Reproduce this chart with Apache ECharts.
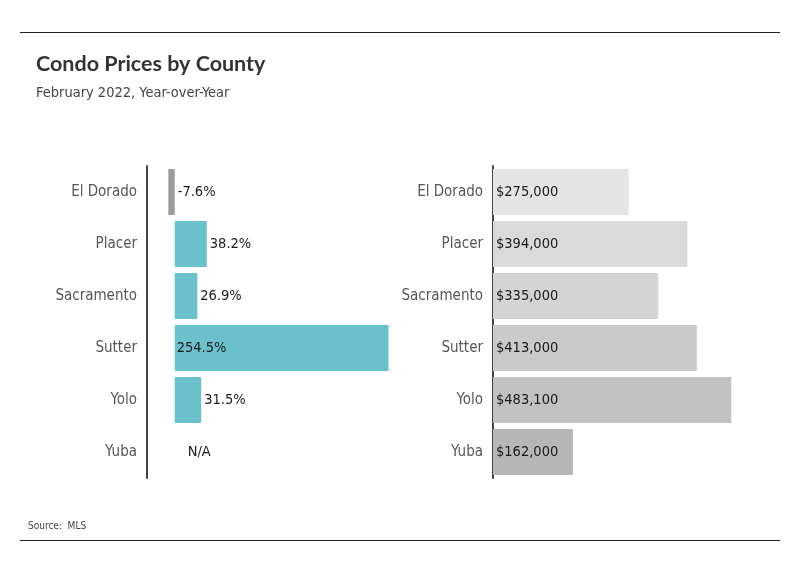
<!DOCTYPE html>
<html><head><meta charset="utf-8">
<script src="https://cdn.jsdelivr.net/npm/echarts@6/dist/echarts.min.js"></script>
<style>html,body{margin:0;padding:0;background:#fff}#c{width:800px;height:575px}</style>
</head><body><div id="c"></div>
<script>
const counties = ['El Dorado','Placer','Sacramento','Sutter','Yolo','Yuba'];
const yoyChange = [-7.6, 38.2, 26.9, 254.5, 31.5, null];
const medianPrice = [275000, 394000, 335000, 413000, 483100, 162000];
const priceColors = ['#e4e4e4','#dadada','#d4d4d4','#cacaca','#c1c1c1','#b7b7b7'];

const FONT = '"DejaVu Sans Condensed", "Liberation Sans Narrow", sans-serif';
const FS = 14.5;
const chart = echarts.init(document.getElementById('c'));

const yoyData = yoyChange.map(v => {
  if (v === null) return {value: 0, label: {show: true, formatter: 'N/A', position: 'right', distance: 13}};
  const wide = v > 150;
  return {
    value: v,
    itemStyle: {color: v < 0 ? '#9b9b9b' : '#6bc1cb'},
    label: {position: wide ? 'insideLeft' : 'right', distance: wide ? 2 : 3,
      formatter: v.toFixed(1) + '%'}
  };
});

const priceData = medianPrice.map((v, i) => ({value: v, itemStyle: {color: priceColors[i]}}));

const catAxis = (gi) => ({
  type: 'category', gridIndex: gi, data: counties, inverse: true,
  axisLine: {show: true, onZero: false, lineStyle: {color: '#444', width: 2}},
  axisTick: {show: false},
  axisLabel: {color: '#555', fontSize: FS + 0.5, fontFamily: FONT, margin: 10}
});

chart.setOption({
  animation: false,
  backgroundColor: '#fff',
  title: [
    {text: 'Condo Prices by County', left: 31, top: 48,
      textStyle: {fontFamily: 'Lato, sans-serif', fontWeight: 'bold', fontSize: 21.5, color: '#333'}},
    {text: 'February 2022, Year-over-Year', left: 31, top: 81,
      textStyle: {fontFamily: FONT, fontWeight: 'normal', fontSize: 14.5, color: '#444'}},
    {text: 'Source:  MLS', left: 23, top: 516,
      textStyle: {fontFamily: FONT, fontWeight: 'normal', fontSize: 10, color: '#444'}}
  ],
  graphic: [
    {type: 'line', shape: {x1: 20, y1: 32.5, x2: 780, y2: 32.5}, style: {stroke: '#222', lineWidth: 1}},
    {type: 'line', shape: {x1: 20, y1: 540.5, x2: 780, y2: 540.5}, style: {stroke: '#222', lineWidth: 1}}
  ],
  grid: [
    {left: 147, top: 166, width: 252, height: 312},
    {left: 493, top: 166, width: 296, height: 312}
  ],
  xAxis: [
    {type: 'value', gridIndex: 0, min: -33, max: 267, show: false},
    {type: 'value', gridIndex: 1, min: 0, max: 600000, show: false}
  ],
  yAxis: [catAxis(0), catAxis(1)],
  series: [
    {type: 'bar', xAxisIndex: 0, yAxisIndex: 0, data: yoyData, barWidth: 46,
      label: {show: true, color: '#1a1a1a', fontSize: FS, fontFamily: FONT}},
    {type: 'bar', xAxisIndex: 1, yAxisIndex: 1, data: priceData, barWidth: 46,
      label: {show: true, position: 'insideLeft', distance: 3, color: '#1a1a1a', fontSize: FS, fontFamily: FONT,
        formatter: p => '$' + p.value.toLocaleString('en-US')}}
  ]
});
</script></body></html>
